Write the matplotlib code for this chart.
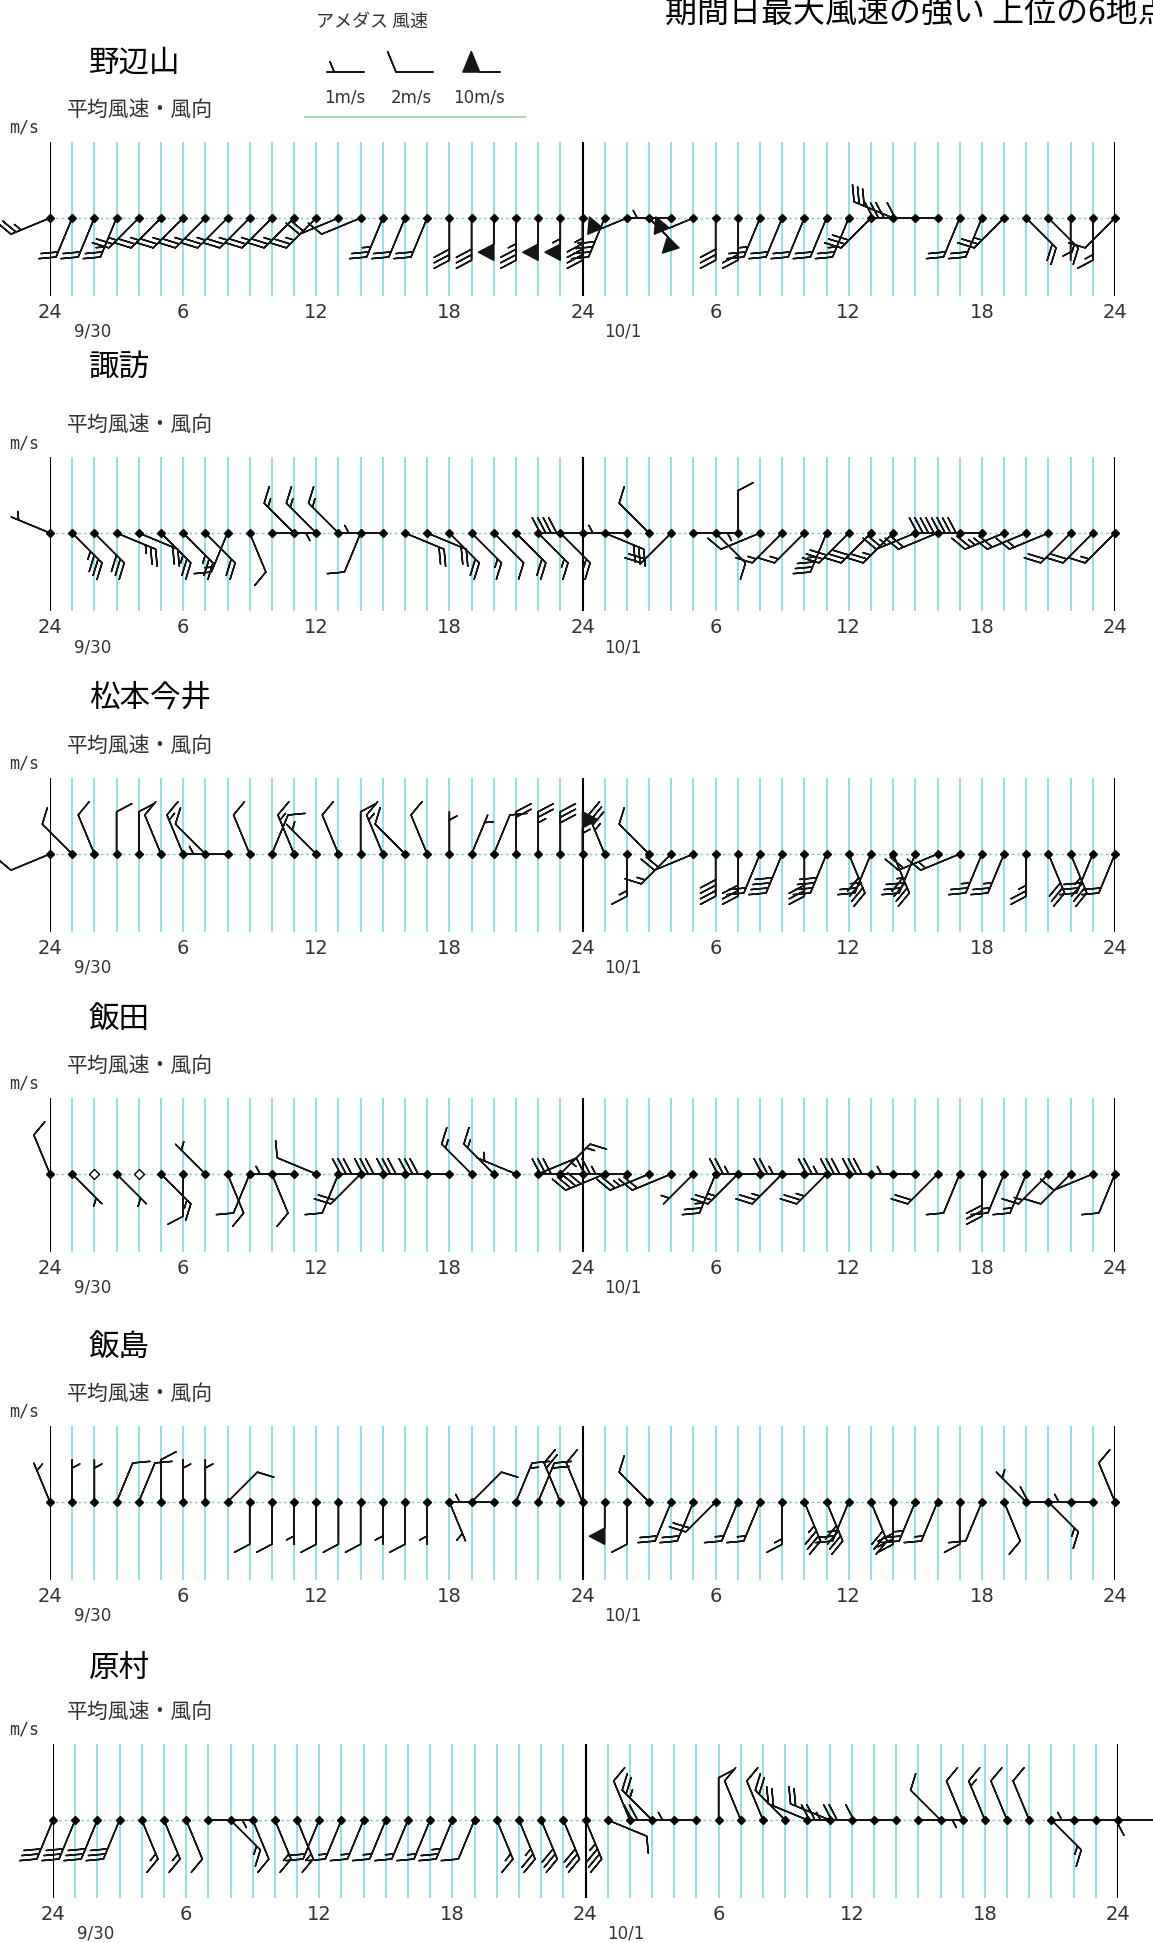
import numpy as np
import matplotlib
matplotlib.use('Agg')
import matplotlib.pyplot as plt

W, H = 1153, 1943
fig = plt.figure(figsize=(W / 100, H / 100), dpi=100)
fig.patch.set_facecolor('white')

JP = ['Noto Sans CJK JP', 'DejaVu Sans']

# ---------------- data ----------------
title = '期間日最大風速の強い 上位の6地点'
stations = ['野辺山', '諏訪', '松本今井', '飯田', '飯島', '原村']
hours = list(range(49))          # 9/30 0時(=9/29 24時) ... 10/1 24時
tick_hours = [0, 6, 12, 18, 24, 30, 36, 42, 48]
tick_labels = ['24', '6', '12', '18', '24', '6', '12', '18', '24']
date_labels = ['9/30', '10/1']
date_hours = [1.9, 25.8]

# wind direction (deg, from which it blows) and mean speed (m/s), hourly
dir_nobeyama = [247.5, 202.5, 202.5, 202.5, 225, 225, 225, 225, 225, 225, 225, 225, 225,
                247.5, 247.5, 202.5, 202.5, 202.5, 180, 180, 180, 180, 180, 180, 180,
                202.5, 247.5, 135, 270, 247.5, 180, 180, 202.5, 202.5, 202.5, 202.5, 202.5,
                225, 292.5, 270, 270, 202.5, 202.5, 225, 135, 135, 180, 180, 225]
spd_nobeyama = [5, 4, 4, 5, 5, 5, 5, 5, 5, 5, 5, 5, 5, 4, 2, 5, 4, 4, 6, 6, 10, 7, 10, 11, 9,
                8, 10, 10, 1, 10, 6, 4, 5, 4, 4, 4, 5, 6, 6, 6, 2, 4, 4, 5, 4, 3, 1, 3, 2]

dir_suwa = [292.5, 135, 135, 112.5, 112.5, 135, 135, 135, 202.5, 157.5, 90, 315, 315, 315,
            202.5, 270, 112.5, 112.5, 135, 135, 135, 135, 135, 135, 270, 112.5, 270, 315,
            225, 90, 135, 0, 247.5, 225, 225, 202.5, 225, 225, 225, 247.5, 247.5, 270, 270,
            247.5, 247.5, 247.5, 225, 225, 225]
spd_suwa = [1, 7, 6, 5, 4, 5, 5, 4, 3, 2, 1, 3, 3, 3, 2, 1, 4, 4, 4, 3, 2, 4, 3, 3, 8, 6, 1, 2,
            4, 1, 2, 2, 2, 3, 3, 7, 6, 6, 5, 5, 4, 8, 8, 5, 4, 3, 4, 4, 3]

dir_matsumoto = [247.5, 315, 337.5, 0, 0, 337.5, 337.5, 315, 270, 337.5, 22.5, 337.5, 315,
                 337.5, 0, 337.5, 315, 337.5, 0, 22.5, 22.5, 0, 0, 0, 0, 337.5, 180, 315, 225,
                 247.5, 180, 180, 202.5, 202.5, 180, 202.5, 157.5, 202.5, 157.5, 202.5, 247.5,
                 247.5, 202.5, 202.5, 180, 157.5, 157.5, 202.5, 202.5]
spd_matsumoto = [2, 2, 2, 2, 2, 2, 3, 2, 1, 2, 2, 3, 1, 2, 2, 3, 2, 2, 1, 1, 2, 4, 5, 6, 11, 7,
                 3, 2, 3, 4, 8, 6, 4, 8, 6, 8, 8, 5, 8, 7, 4, 3, 5, 5, 5, 6, 7, 6, 4]

dir_iida = [337.5, 135, 0, 135, 0, 135, 180, 315, 157.5, 202.5, 157.5, 270, 292.5, 202.5, 225,
            270, 270, 270, 270, 315, 315, 292.5, 67.5, 45, 270, 247.5, 270, 247.5, 247.5, 225,
            202.5, 225, 270, 225, 270, 225, 270, 270, 270, 270, 225, 202.5, 180, 202.5, 202.5,
            225, 225, 247.5, 202.5]
spd_iida = [2, 1, 0, 1, 0, 3, 2, 1, 2, 2, 2, 1, 2, 2, 4, 6, 6, 6, 6, 3, 3, 1, 1, 3, 6, 8, 5, 5,
            4, 1, 5, 5, 5, 5, 5, 5, 5, 6, 6, 1, 4, 2, 6, 3, 3, 3, 2, 2, 2]

dir_iijima = [337.5, 0, 0, 22.5, 22.5, 0, 0, 0, 45, 180, 180, 180, 180, 180, 180, 180, 180, 180,
              157.5, 45, 270, 22.5, 22.5, 337.5, 337.5, 180, 180, 315, 202.5, 202.5, 225, 202.5,
              202.5, 180, 157.5, 157.5, 202.5, 157.5, 180, 202.5, 202.5, 180, 202.5, 157.5, 315,
              135, 270, 270, 337.5]
spd_iijima = [1, 1, 1, 2, 2, 2, 1, 1, 2, 2, 2, 1, 2, 2, 2, 1, 2, 1, 1, 2, 1, 3, 4, 4, 2, 10, 2,
              2, 4, 4, 4, 3, 3, 3, 7, 8, 5, 6, 6, 5, 3, 2, 2, 2, 1, 3, 2, 1, 2]

dir_haramura = [202.5, 202.5, 202.5, 202.5, 157.5, 157.5, 157.5, 90, 135, 157.5, 157.5, 157.5,
                202.5, 202.5, 202.5, 202.5, 202.5, 202.5, 202.5, 202.5, 157.5, 157.5, 157.5,
                157.5, 157.5, 112.5, 337.5, 315, 270, 270, 0, 337.5, 337.5, 315, 292.5, 292.5,
                270, 270, 270, 90, 315, 337.5, 337.5, 337.5, 337.5, 135, 90, 270, 90]
spd_haramura = [6, 6, 6, 6, 3, 3, 2, 1, 3, 2, 3, 3, 4, 3, 3, 3, 3, 3, 5, 2, 3, 5, 6, 6, 7, 2, 2,
                5, 4, 1, 2, 2, 2, 4, 4, 4, 5, 4, 2, 1, 2, 2, 3, 2, 2, 3, 2, 1, 2]

directions = [dir_nobeyama, dir_suwa, dir_matsumoto, dir_iida, dir_iijima, dir_haramura]
speeds = [spd_nobeyama, spd_suwa, spd_matsumoto, spd_iida, spd_iijima, spd_haramura]

legend_speeds = [1, 2, 10]
legend_labels = ['1m/s', '2m/s', '10m/s']

# ---------------- layout (pixels) ----------------
def fx(px):
    return px / W


def fy(py):
    return 1 - py / H


dot_y = [218, 533, 854, 1174, 1502, 1820]
name_y = [63, 367, 698, 1019, 1347, 1668]
x_shift = [0, 0, 0, 0, 0, 3]
X0, X1 = 50, 1115
TOP, BOT = 76, 78

CYAN = '#86dfe6'
BARB_KW = dict(length=7.8, barb_increments=dict(half=1, full=2, flag=10),
               sizes=dict(height=0.36, spacing=0.13, width=0.38, emptybarb=0.0),
               linewidth=1.1, color='#151515', clip_on=False, zorder=3)

for i, st in enumerate(stations):
    d = dot_y[i]
    ax = fig.add_axes([fx(X0 + x_shift[i]), fy(d + BOT), fx(X1 - X0), (TOP + BOT) / H])
    ax.set_xlim(0, 48)
    ax.set_ylim(-BOT, TOP)
    ax.patch.set_alpha(0)
    for s in ax.spines.values():
        s.set_visible(False)
    ax.set_yticks([])
    ax.set_xticks(tick_hours, tick_labels)
    ax.tick_params(axis='x', length=0, pad=5, labelsize=14, labelcolor='#333333')

    light = [h for h in hours if h not in (0, 24, 48)]
    ax.vlines(light, -BOT, TOP, color=CYAN, lw=1.3, zorder=1)
    ax.vlines([0, 24, 48], -BOT, TOP, color='black', lw=1.5, zorder=2)
    ax.axhline(0, color='#7ccfd8', lw=1.0, ls=(0, (2, 2)), zorder=1)

    rad = np.deg2rad(np.array(directions[i], dtype=float))
    spd = np.array(speeds[i], dtype=float)
    u = -spd * np.sin(rad)
    v = -spd * np.cos(rad)
    x = np.array(hours, dtype=float)
    y = np.zeros_like(x)
    ax.barbs(x, y, u, v, **BARB_KW)
    calm = spd == 0
    ax.plot(x[~calm], y[~calm], 'D', ms=4.5, color='black', zorder=4, clip_on=False)
    ax.plot(x[calm], y[calm], 'D', ms=5, mfc='white', mec='black', mew=1.0,
            zorder=4, clip_on=False)

    for lbl, h in zip(date_labels, date_hours):
        ax.text(h, -114, lbl, ha='center', va='center', fontsize=12,
                color='#333333', clip_on=False)

    fig.text(fx(89), fy(name_y[i]), st, va='center', ha='left', fontsize=22,
             family=JP, color='black')
    fig.text(fx(67), fy(d - 108), '平均風速・風向', va='center', ha='left',
             fontsize=15, family=JP, color='#333333')
    fig.text(fx(9), fy(d - 90), 'm/s', va='center', ha='left', fontsize=12,
             family='DejaVu Sans Mono', color='#333333')

# title (cut by right edge as in the original)
fig.text(fx(665), fy(13), title, va='center', ha='left', fontsize=23, family=JP,
         color='black')

# legend
fig.text(fx(316), fy(22), 'アメダス 風速', va='center', ha='left', fontsize=13,
         family=JP, color='#333333')
lax = fig.add_axes([fx(300), fy(125), fx(240), 95 / H])
lax.set_xlim(300, 540)
lax.set_ylim(-125, -30)
lax.axis('off')
leg_x = np.array([364, 433, 500], dtype=float)
leg_y = np.full(3, -72.0)
lax.barbs(leg_x, leg_y, np.array(legend_speeds, dtype=float), np.zeros(3),
          **{**BARB_KW, 'length': 7.3,
             'sizes': dict(height=0.55, spacing=0.13, width=0.45, emptybarb=0.0)})
for xx, lbl in zip([345, 411, 479], legend_labels):
    lax.text(xx, -98, lbl, ha='center', va='center', fontsize=12, color='#333333')
lax.plot([305, 525], [-117, -117], color='#a6dfa6', lw=1.5)

fig.savefig('out.png', dpi=100, facecolor='white')
